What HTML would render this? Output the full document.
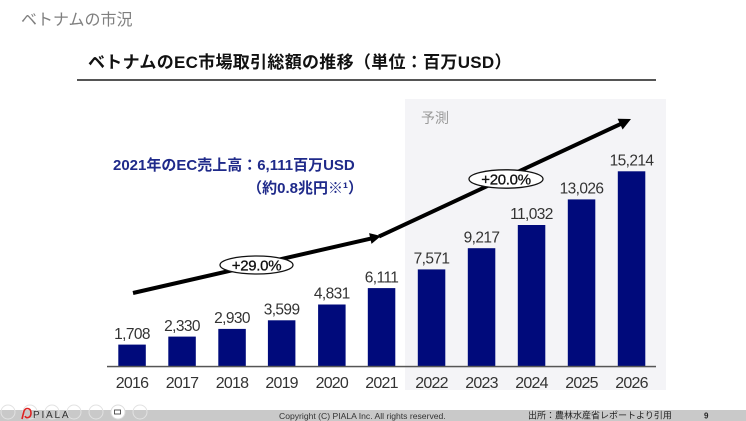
<!DOCTYPE html>
<html><head><meta charset="utf-8">
<style>
html,body{margin:0;padding:0;background:#fff;}
body{width:746px;height:421px;overflow:hidden;}
svg{display:block;}
text{font-family:"Liberation Sans","Noto Sans CJK JP",sans-serif;}
</style></head>
<body>
<svg width="746" height="421" viewBox="0 0 746 421" xmlns="http://www.w3.org/2000/svg">
<rect x="0" y="0" width="746" height="421" fill="#fff"/>
<!-- page title -->
<text x="21" y="25" font-size="16" fill="#7f7f7f">ベトナムの市況</text>
<!-- chart title -->
<text x="88" y="68" font-size="17" font-weight="bold" fill="#111" letter-spacing="0.3">ベトナムのEC市場取引総額の推移（単位：百万USD）</text>
<rect x="77" y="79" width="579" height="2" fill="#555"/>
<!-- forecast region -->
<rect x="405" y="99" width="261" height="291" fill="#f4f4f7"/>
<text x="421" y="123" font-size="14" fill="#9a9a9a">予測</text>
<!-- annotation -->
<text x="113" y="170" font-size="15" font-weight="bold" fill="#1f2a8a">2021年のEC売上高：6,111百万USD</text>
<text x="363" y="193" font-size="15" font-weight="bold" fill="#1f2a8a" text-anchor="end">（約0.8兆円※¹）</text>
<!-- bars -->
<g fill="#000a7b">
<rect x="118.3" y="344.6" width="27.5" height="21.9"/>
<rect x="168.3" y="336.6" width="27.5" height="29.9"/>
<rect x="218.3" y="328.9" width="27.5" height="37.6"/>
<rect x="267.9" y="320.3" width="27.5" height="46.2"/>
<rect x="318.1" y="304.5" width="27.5" height="62.0"/>
<rect x="367.8" y="288.1" width="27.5" height="78.4"/>
<rect x="417.8" y="269.4" width="27.5" height="97.1"/>
<rect x="467.8" y="248.2" width="27.5" height="118.3"/>
<rect x="517.8" y="225.0" width="27.5" height="141.5"/>
<rect x="567.8" y="199.4" width="27.5" height="167.1"/>
<rect x="617.8" y="171.3" width="27.5" height="195.2"/>
</g>
<!-- axis -->
<rect x="107" y="365.8" width="549" height="1.5" fill="#555"/>
<!-- value labels -->
<g font-size="15.5" fill="#333" text-anchor="middle" letter-spacing="-0.6">
<text x="132" y="339">1,708</text>
<text x="182" y="331">2,330</text>
<text x="232" y="323">2,930</text>
<text x="281.6" y="314.5">3,599</text>
<text x="331.8" y="298.5">4,831</text>
<text x="381.5" y="282.5">6,111</text>
<text x="431.5" y="263.5">7,571</text>
<text x="481.5" y="242.5">9,217</text>
<text x="531.5" y="219">11,032</text>
<text x="581.5" y="193.5">13,026</text>
<text x="631.5" y="165.5">15,214</text>
</g>
<!-- year labels -->
<g font-size="16" fill="#333" text-anchor="middle" letter-spacing="-0.8">
<text x="132" y="388">2016</text>
<text x="182" y="388">2017</text>
<text x="232" y="388">2018</text>
<text x="281.6" y="388">2019</text>
<text x="331.8" y="388">2020</text>
<text x="381.5" y="388">2021</text>
<text x="431.5" y="388">2022</text>
<text x="481.5" y="388">2023</text>
<text x="531.5" y="388">2024</text>
<text x="581.5" y="388">2025</text>
<text x="631.5" y="388">2026</text>
</g>
<!-- arrows -->
<line x1="133" y1="293" x2="372" y2="238.3" stroke="#000" stroke-width="4"/>
<polygon points="381,236 371.5,243.9 369.1,233.1" fill="#000"/>
<line x1="379" y1="236.5" x2="621" y2="123.8" stroke="#000" stroke-width="4"/>
<polygon points="631,119 622.6,129.5 617.6,118.7" fill="#000"/>
<!-- ellipses -->
<ellipse cx="256.5" cy="265" rx="36.5" ry="9" fill="#fff" stroke="#111" stroke-width="1.3"/>
<text x="256.5" y="270.5" font-size="15" fill="#111" text-anchor="middle" stroke="#111" stroke-width="0.3" letter-spacing="-0.3">+29.0%</text>
<ellipse cx="506" cy="179" rx="37" ry="9.2" fill="#fff" stroke="#111" stroke-width="1.3"/>
<text x="506" y="184.5" font-size="15" fill="#111" text-anchor="middle" stroke="#111" stroke-width="0.3" letter-spacing="-0.3">+20.0%</text>
<!-- footer -->
<rect x="0" y="410" width="746" height="11" fill="#c9c9c9"/>
<g fill="none" stroke="#e2e2e2" stroke-width="1">
<circle cx="8" cy="412" r="7"/>
<circle cx="30" cy="412" r="7"/>
<circle cx="52" cy="412" r="7"/>
<circle cx="74" cy="412" r="7"/>
<circle cx="96" cy="412" r="7"/>
<circle cx="140" cy="412" r="7"/>
</g>
<circle cx="118" cy="412" r="7" fill="#fff" stroke="#ddd"/>
<rect x="114.5" y="410" width="6" height="4" fill="none" stroke="#333" stroke-width="0.8"/>
<path d="M22,419 L24,411 C26,407 31,408 31,413 C31,418 26,419 25,416" fill="none" stroke="#d22" stroke-width="1.6"/>
<text x="33" y="418" font-size="10" fill="#333" letter-spacing="1.8">PIALA</text>
<text x="279" y="419" font-size="8.6" fill="#333">Copyright (C) PIALA Inc. All rights reserved.</text>
<text x="528" y="418.5" font-size="9" fill="#222">出所：農林水産省レポートより引用</text>
<text x="704" y="418.5" font-size="8" font-weight="bold" fill="#222">9</text>
</svg>
</body></html>
